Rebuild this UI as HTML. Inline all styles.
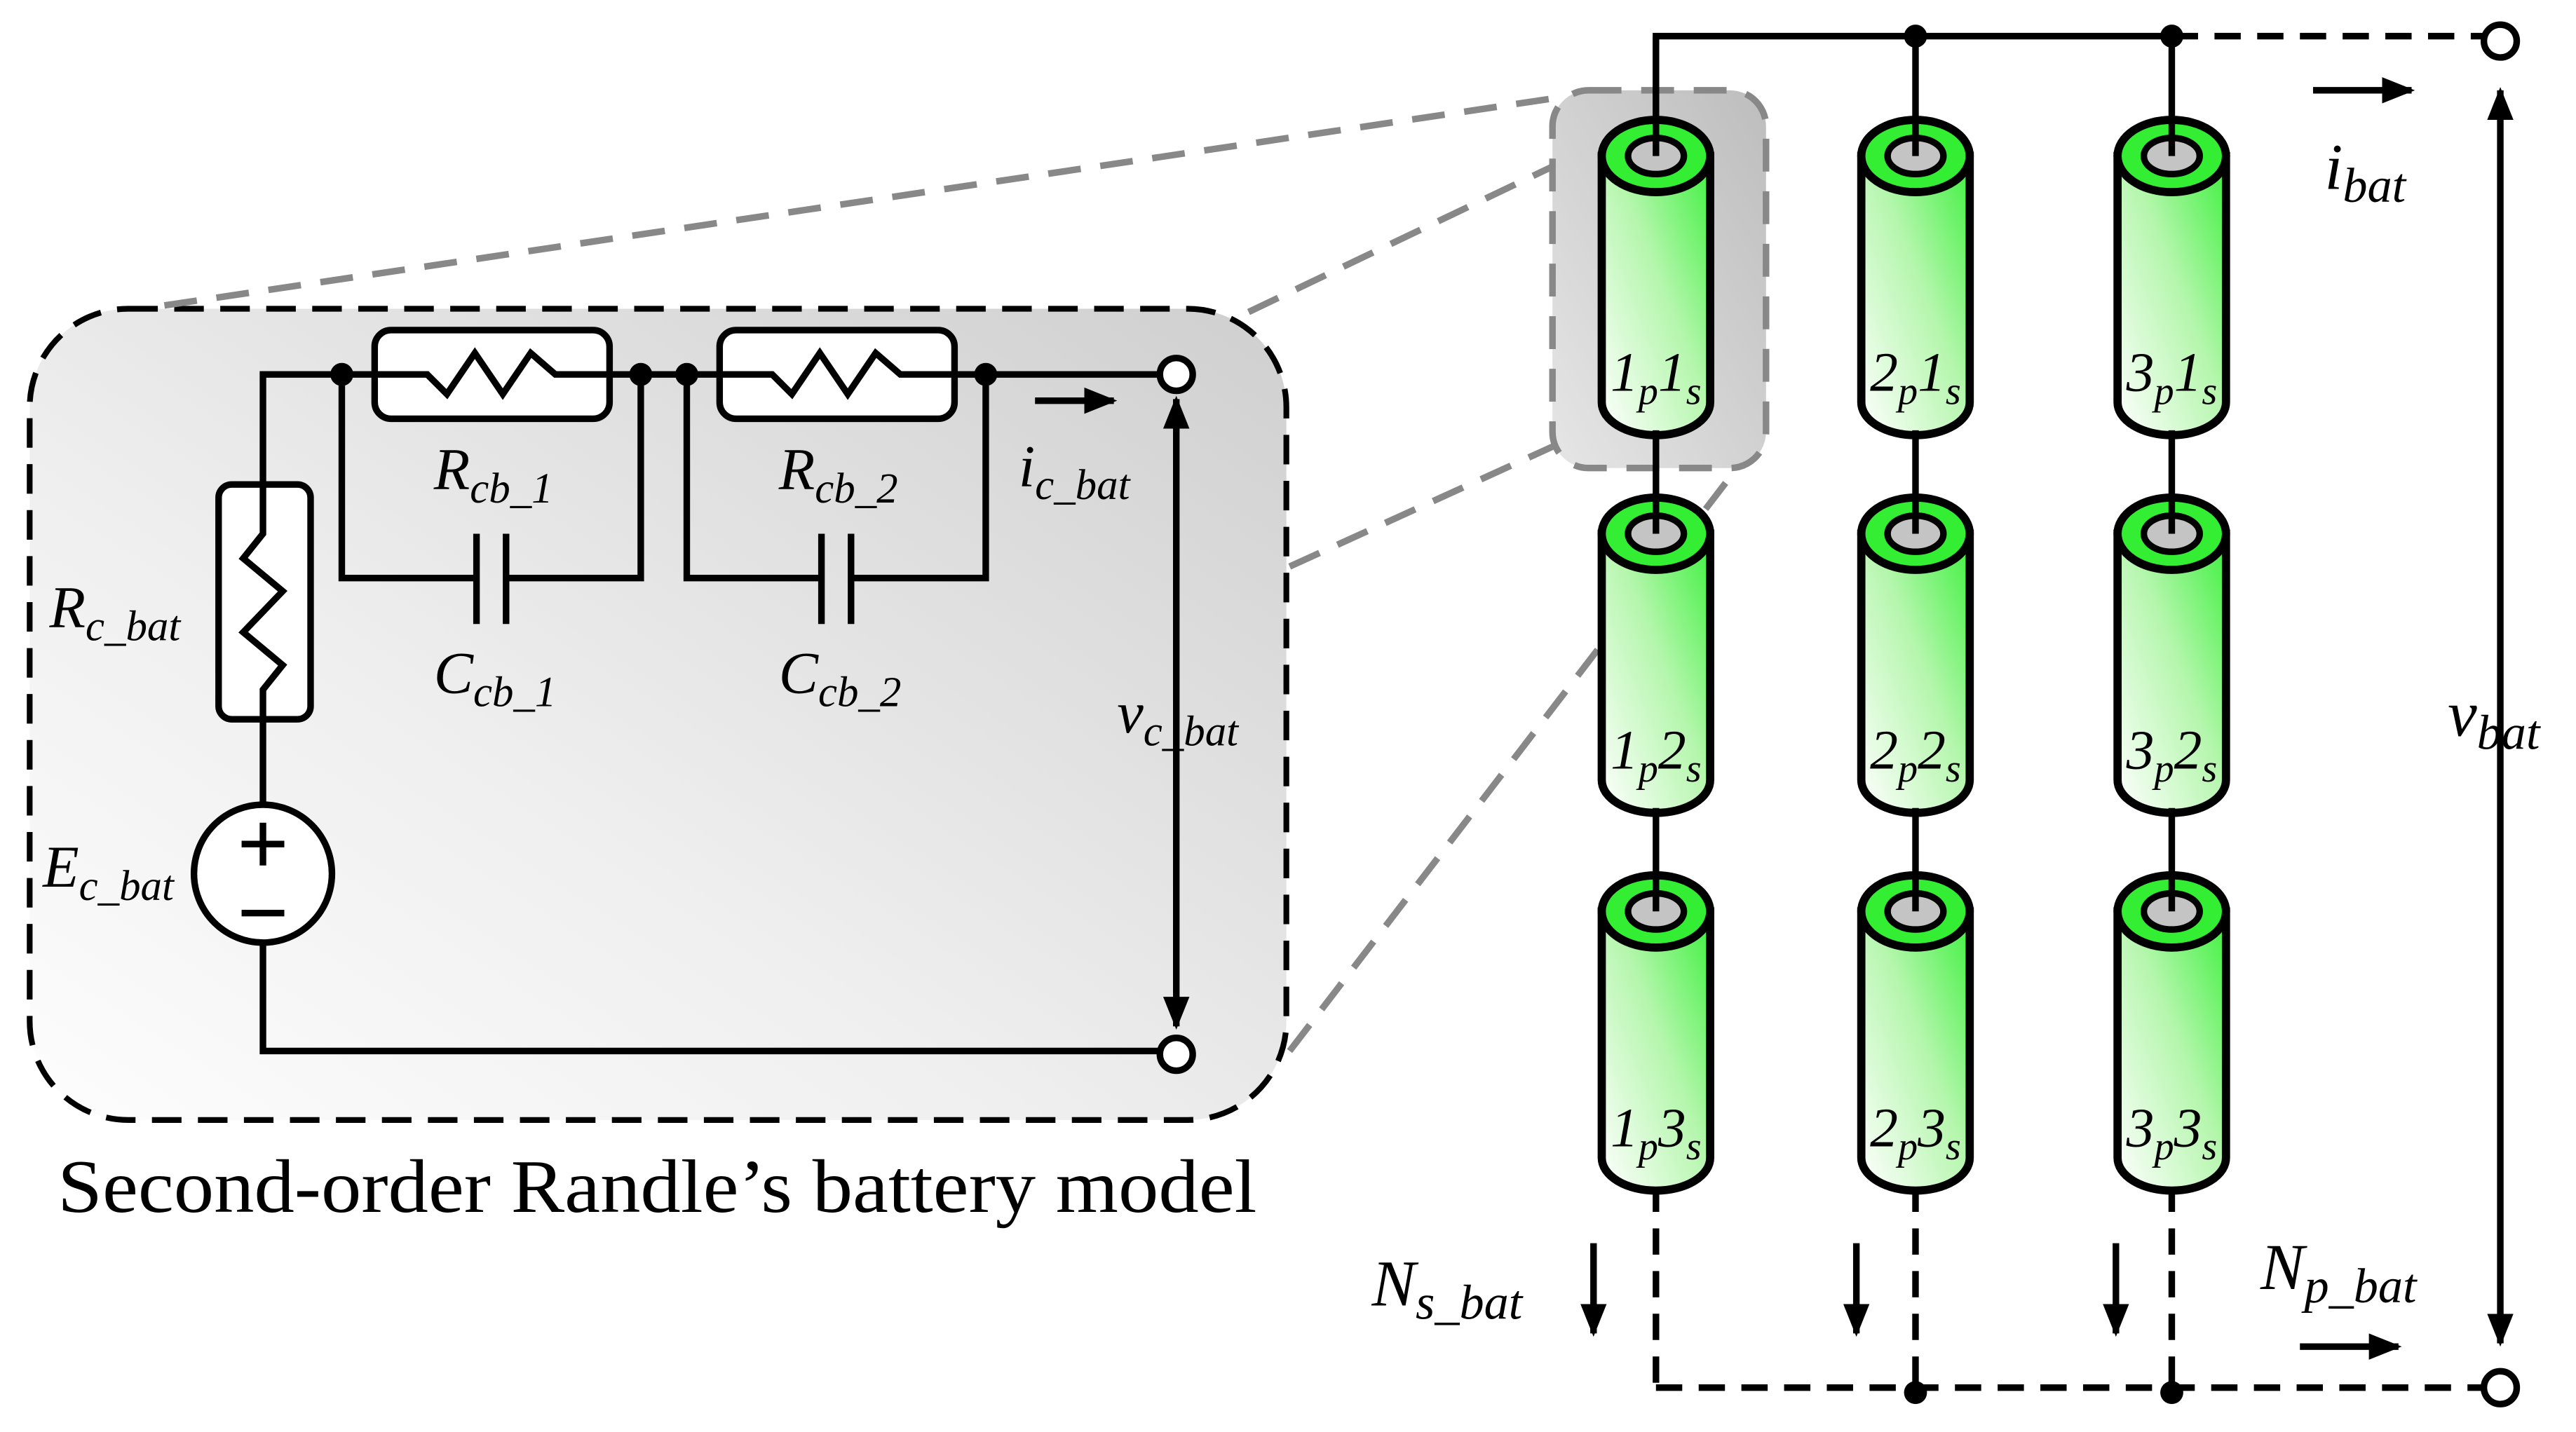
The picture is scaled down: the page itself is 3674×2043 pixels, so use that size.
<!DOCTYPE html>
<html><head><meta charset="utf-8"><style>html,body{margin:0;padding:0;background:#fff}svg{display:block}</style></head>
<body>
<svg width="3674" height="2043" viewBox="0 0 1568 872" xmlns="http://www.w3.org/2000/svg" font-family="Liberation Serif, serif">
<defs>
<linearGradient id="bg" x1="1" y1="0" x2="0" y2="1"><stop offset="0" stop-color="#cfcfcf"/><stop offset="0.6" stop-color="#efefef"/><stop offset="1" stop-color="#fdfdfd"/></linearGradient>
<linearGradient id="sb" x1="1" y1="0" x2="0" y2="1"><stop offset="0" stop-color="#bdbdbd"/><stop offset="1" stop-color="#e6e6e6"/></linearGradient>
<linearGradient id="cg" x1="0" y1="1" x2="1" y2="0"><stop offset="0" stop-color="#ffffff"/><stop offset="0.55" stop-color="#b4f6ac"/><stop offset="1" stop-color="#3ef03e"/></linearGradient>
<marker id="ah" viewBox="0 0 10 10" refX="9" refY="5" markerWidth="5" markerHeight="5" orient="auto-start-reverse"><path d="M0,1 L10,5 L0,9 z" fill="#000"/></marker>
<g id="cell">
<path d="M-33,0 L-33,150 A33,20 0 0 0 33,150 L33,0 Z" fill="url(#cg)" stroke="#000" stroke-width="5"/>
<ellipse cx="0" cy="0" rx="33" ry="22" fill="#33ee33" stroke="#000" stroke-width="5"/>
<ellipse cx="0" cy="0" rx="17" ry="11" fill="#c4c4c4" stroke="#000" stroke-width="4"/>
</g>
</defs>
<rect width="1568" height="872" fill="#fff"/>
<rect x="18" y="188" width="765" height="494" rx="60" fill="url(#bg)" stroke="#000" stroke-width="3.5" stroke-dasharray="18,10"/>
<g stroke="#888" stroke-width="4" stroke-dasharray="20,12" fill="none">
<line x1="100" y1="186" x2="945" y2="60"/>
<line x1="785" y1="345" x2="945" y2="272"/>
<line x1="785" y1="640" x2="1075" y2="262"/>
<line x1="760" y1="190" x2="948" y2="100"/>
</g>
<rect x="945" y="55" width="130" height="230" rx="22" fill="url(#sb)" stroke="#888" stroke-width="4" stroke-dasharray="20,12"/>
<g stroke="#000" stroke-width="4" fill="none">
<polyline points="707,228 160,228 160,640 707,640"/>
<polyline points="208,228 208,352 290,352"/><polyline points="308,352 390,352 390,228"/>
<polyline points="418,228 418,352 500,352"/><polyline points="518,352 600,352 600,228"/>
<line x1="290" y1="325" x2="290" y2="380"/><line x1="308" y1="325" x2="308" y2="380"/>
<line x1="500" y1="325" x2="500" y2="380"/><line x1="518" y1="325" x2="518" y2="380"/>
<rect x="228" y="201" width="143" height="54" rx="10" fill="#fff"/>
<rect x="438" y="201" width="143" height="54" rx="10" fill="#fff"/>
<polyline points="228,228 260,228 272,240 289,215 306,240 323,215 338,228 371,228"/>
<polyline points="438,228 470,228 482,240 499,215 516,240 533,215 548,228 581,228"/>
<rect x="133" y="295" width="56" height="143" rx="8" fill="#fff"/>
<polyline points="160,295 160,325 148,340 172,360 148,385 172,405 160,420 160,438"/>
<circle cx="160" cy="532" r="42" fill="#fff"/>
<line x1="147" y1="514" x2="173" y2="514"/><line x1="160" y1="501" x2="160" y2="527"/>
<line x1="147" y1="556" x2="173" y2="556"/>
<line x1="716" y1="243" x2="716" y2="625" marker-start="url(#ah)" marker-end="url(#ah)"/>
<line x1="630" y1="244" x2="678" y2="244" marker-end="url(#ah)"/>
<circle cx="716" cy="228" r="10" fill="#fff"/><circle cx="716" cy="642" r="10" fill="#fff"/>
</g>
<g fill="#000"><circle cx="208" cy="228" r="7"/><circle cx="390" cy="228" r="7"/><circle cx="418" cy="228" r="7"/><circle cx="600" cy="228" r="7"/></g>
<g font-style="italic" font-size="36">
<text x="264" y="298">R<tspan font-size="26" dy="8">cb_1</tspan></text>
<text x="264" y="422">C<tspan font-size="26" dy="8">cb_1</tspan></text>
<text x="474" y="298">R<tspan font-size="26" dy="8">cb_2</tspan></text>
<text x="474" y="422">C<tspan font-size="26" dy="8">cb_2</tspan></text>
<text x="30" y="382">R<tspan font-size="26" dy="8">c_bat</tspan></text>
<text x="26" y="540">E<tspan font-size="26" dy="8">c_bat</tspan></text>
<text x="620" y="296">i<tspan font-size="26" dy="8">c_bat</tspan></text>
<text x="680" y="446">v<tspan font-size="26" dy="8">c_bat</tspan></text>
</g>
<text x="35" y="738" font-size="46" textLength="730" lengthAdjust="spacingAndGlyphs">Second-order Randle’s battery model</text>
<g stroke="#000" stroke-width="4" fill="none">
<polyline points="1008,95 1008,22 1322,22"/>
<line x1="1322" y1="22" x2="1512" y2="22" stroke-dasharray="16,10"/>
<g stroke-dasharray="16,10">
<line x1="1008" y1="722" x2="1008" y2="845"/><line x1="1166" y1="722" x2="1166" y2="845"/><line x1="1322" y1="722" x2="1322" y2="845"/>
<line x1="1008" y1="845" x2="1512" y2="845"/>
</g>
<line x1="1522" y1="55" x2="1522" y2="818" marker-start="url(#ah)" marker-end="url(#ah)"/>
<line x1="1408" y1="55" x2="1468" y2="55" marker-end="url(#ah)"/>
<line x1="1400" y1="820" x2="1460" y2="820" marker-end="url(#ah)"/>
<line x1="970" y1="757" x2="970" y2="812" marker-end="url(#ah)"/>
<line x1="1130" y1="757" x2="1130" y2="812" marker-end="url(#ah)"/>
<line x1="1288" y1="757" x2="1288" y2="812" marker-end="url(#ah)"/>
</g>
<g fill="#000"><circle cx="1166" cy="22" r="7"/><circle cx="1322" cy="22" r="7"/><circle cx="1166" cy="848" r="7"/><circle cx="1322" cy="848" r="7"/></g>
<circle cx="1522" cy="25" r="10" fill="#fff" stroke="#000" stroke-width="4"/>
<circle cx="1522" cy="845" r="10" fill="#fff" stroke="#000" stroke-width="4"/>
<use href="#cell" x="1008" y="95"/><use href="#cell" x="1166" y="95"/><use href="#cell" x="1322" y="95"/>
<use href="#cell" x="1008" y="325"/><use href="#cell" x="1166" y="325"/><use href="#cell" x="1322" y="325"/>
<use href="#cell" x="1008" y="555"/><use href="#cell" x="1166" y="555"/><use href="#cell" x="1322" y="555"/>
<g stroke="#000" stroke-width="4">
<line x1="1008" y1="22" x2="1008" y2="95"/><line x1="1166" y1="22" x2="1166" y2="95"/><line x1="1322" y1="22" x2="1322" y2="95"/>
<line x1="1008" y1="262" x2="1008" y2="325"/><line x1="1166" y1="262" x2="1166" y2="325"/><line x1="1322" y1="262" x2="1322" y2="325"/>
<line x1="1008" y1="492" x2="1008" y2="555"/><line x1="1166" y1="492" x2="1166" y2="555"/><line x1="1322" y1="492" x2="1322" y2="555"/>
</g>
<g font-style="italic" font-size="34" text-anchor="middle">
<text x="1008" y="238">1<tspan font-size="24" dy="8">p</tspan><tspan dy="-8">1</tspan><tspan font-size="24" dy="8">s</tspan></text>
<text x="1166" y="238">2<tspan font-size="24" dy="8">p</tspan><tspan dy="-8">1</tspan><tspan font-size="24" dy="8">s</tspan></text>
<text x="1322" y="238">3<tspan font-size="24" dy="8">p</tspan><tspan dy="-8">1</tspan><tspan font-size="24" dy="8">s</tspan></text>
<text x="1008" y="468">1<tspan font-size="24" dy="8">p</tspan><tspan dy="-8">2</tspan><tspan font-size="24" dy="8">s</tspan></text>
<text x="1166" y="468">2<tspan font-size="24" dy="8">p</tspan><tspan dy="-8">2</tspan><tspan font-size="24" dy="8">s</tspan></text>
<text x="1322" y="468">3<tspan font-size="24" dy="8">p</tspan><tspan dy="-8">2</tspan><tspan font-size="24" dy="8">s</tspan></text>
<text x="1008" y="698">1<tspan font-size="24" dy="8">p</tspan><tspan dy="-8">3</tspan><tspan font-size="24" dy="8">s</tspan></text>
<text x="1166" y="698">2<tspan font-size="24" dy="8">p</tspan><tspan dy="-8">3</tspan><tspan font-size="24" dy="8">s</tspan></text>
<text x="1322" y="698">3<tspan font-size="24" dy="8">p</tspan><tspan dy="-8">3</tspan><tspan font-size="24" dy="8">s</tspan></text>
</g>
<g font-style="italic" font-size="40">
<text x="1415" y="115">i<tspan font-size="30" dy="8">bat</tspan></text>
<text x="1490" y="448">v<tspan font-size="30" dy="8">bat</tspan></text>
<text x="835" y="795">N<tspan font-size="30" dy="8">s_bat</tspan></text>
<text x="1376" y="785">N<tspan font-size="30" dy="8">p_bat</tspan></text>
</g>
</svg>
</body></html>
